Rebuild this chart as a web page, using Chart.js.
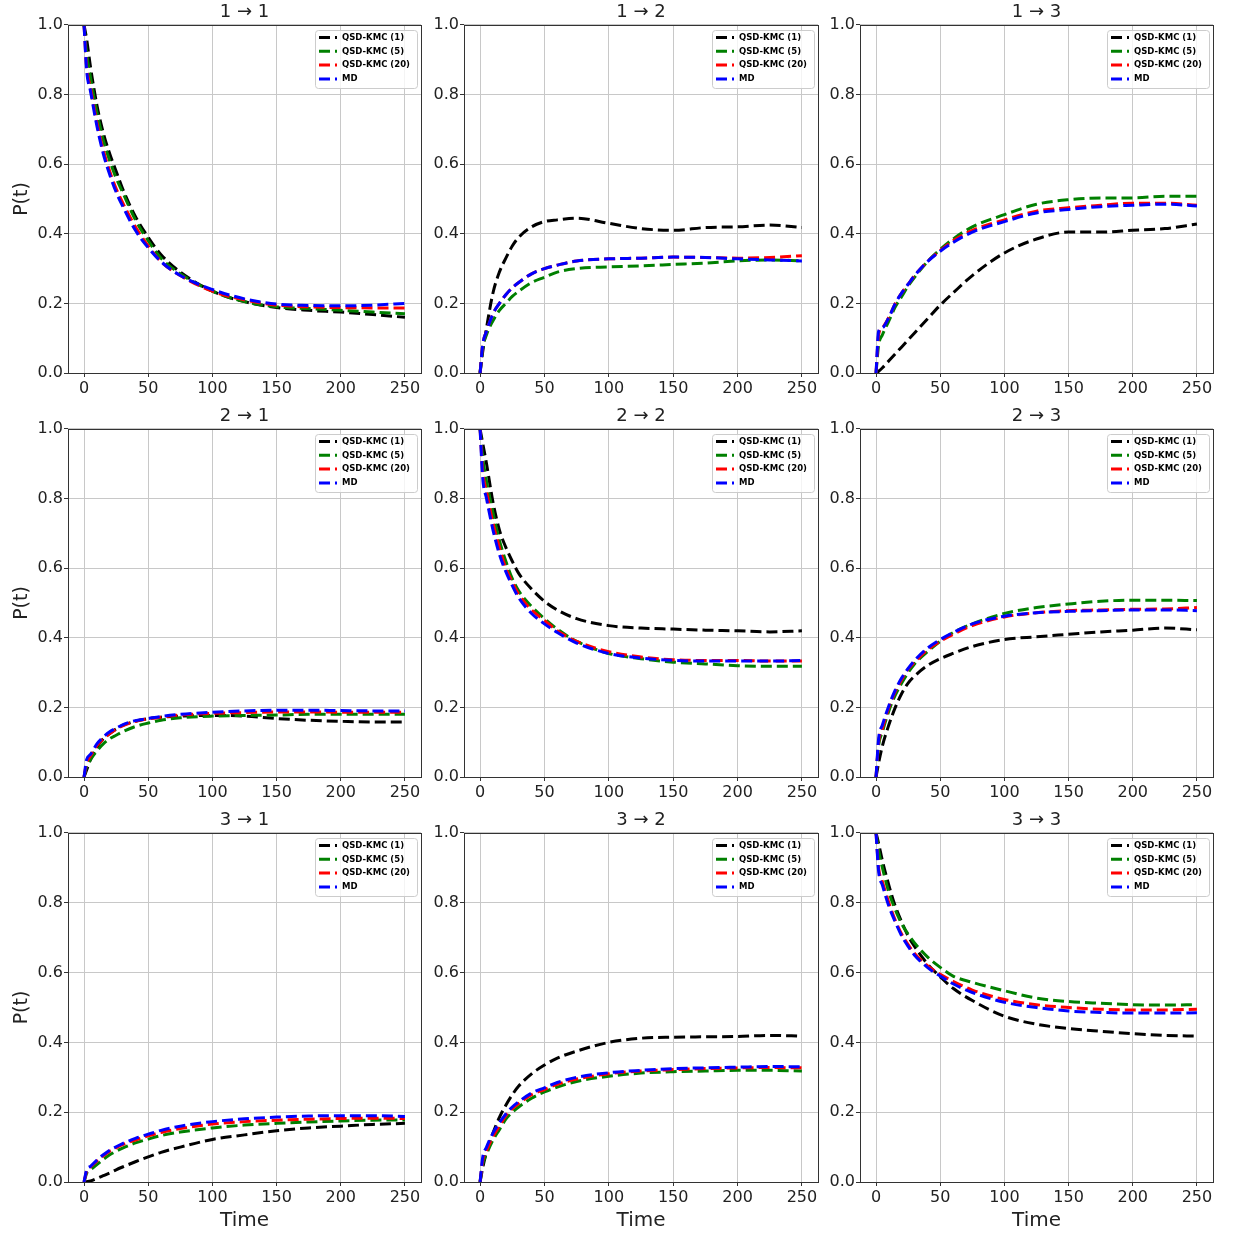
<!DOCTYPE html>
<html lang="en">
<head>
<meta charset="utf-8">
<title>P(t) – QSD-KMC vs. MD</title>
<script src="https://cdn.jsdelivr.net/npm/chart.js@4.4.1/dist/chart.umd.min.js"></script>
<style>
  html, body { margin: 0; padding: 0; background: #fff; }
  #figure { position: relative; width: 1238px; height: 1237px; overflow: hidden; }
  #figure canvas { position: absolute; }
</style>
</head>
<body>
<div id="figure"></div>
<script>
'use strict';

// ------------------------------------------------------------------
// Daten
// ------------------------------------------------------------------

// Gemeinsame Zeitachse aller Panels
const ZEIT = [0, 2, 5, 10, 15, 20, 25, 30, 40, 50, 60, 75, 100, 125, 150, 175, 200, 225, 250];

// Achsenbeschriftungen
const X_TICKS = [0, 50, 100, 150, 200, 250];
const Y_TICKS = [0, 0.2, 0.4, 0.6, 0.8, 1.0];

const SERIEN_NAMEN = ['QSD-KMC (1)', 'QSD-KMC (5)', 'QSD-KMC (20)', 'MD'];

// 1 -> 1
const P11_KMC1  = [1.0, 0.96, 0.88, 0.77, 0.69, 0.63, 0.58, 0.53, 0.45, 0.39, 0.34, 0.29, 0.235, 0.205, 0.188, 0.18, 0.175, 0.168, 0.16];
const P11_KMC5  = [1.0, 0.92, 0.85, 0.75, 0.67, 0.61, 0.56, 0.52, 0.44, 0.38, 0.33, 0.285, 0.235, 0.205, 0.19, 0.185, 0.18, 0.175, 0.17];
const P11_KMC20 = [1.0, 0.88, 0.82, 0.72, 0.64, 0.58, 0.53, 0.49, 0.42, 0.365, 0.32, 0.28, 0.235, 0.21, 0.195, 0.19, 0.188, 0.187, 0.187];
const P11_MD    = [1.0, 0.87, 0.81, 0.71, 0.63, 0.57, 0.52, 0.48, 0.41, 0.36, 0.32, 0.28, 0.24, 0.213, 0.198, 0.194, 0.193, 0.195, 0.2];

// 1 -> 2
const P12_KMC1  = [0, 0.06, 0.13, 0.23, 0.29, 0.33, 0.365, 0.39, 0.42, 0.435, 0.44, 0.445, 0.43, 0.415, 0.41, 0.418, 0.42, 0.425, 0.418];
const P12_KMC5  = [0, 0.07, 0.11, 0.15, 0.18, 0.2, 0.22, 0.235, 0.26, 0.275, 0.29, 0.3, 0.305, 0.308, 0.312, 0.316, 0.322, 0.325, 0.322];
const P12_KMC20 = [0, 0.08, 0.12, 0.17, 0.2, 0.225, 0.245, 0.26, 0.285, 0.3, 0.31, 0.322, 0.328, 0.33, 0.333, 0.332, 0.33, 0.332, 0.337];
const P12_MD    = [0, 0.08, 0.12, 0.17, 0.2, 0.225, 0.245, 0.26, 0.285, 0.3, 0.31, 0.322, 0.328, 0.33, 0.333, 0.332, 0.328, 0.325, 0.322];

// 1 -> 3
const P13_KMC1  = [0, 0.005, 0.015, 0.035, 0.055, 0.075, 0.095, 0.115, 0.155, 0.195, 0.23, 0.28, 0.345, 0.385, 0.405, 0.405, 0.41, 0.415, 0.428];
const P13_KMC5  = [0, 0.08, 0.11, 0.15, 0.19, 0.22, 0.25, 0.275, 0.32, 0.355, 0.385, 0.42, 0.455, 0.485, 0.498, 0.503, 0.503, 0.508, 0.508];
const P13_KMC20 = [0, 0.11, 0.13, 0.16, 0.2, 0.23, 0.255, 0.28, 0.32, 0.352, 0.38, 0.41, 0.44, 0.465, 0.475, 0.482, 0.488, 0.488, 0.482];
const P13_MD    = [0, 0.12, 0.13, 0.16, 0.2, 0.23, 0.255, 0.28, 0.32, 0.35, 0.375, 0.405, 0.435, 0.46, 0.47, 0.478, 0.482, 0.485, 0.48];

// 2 -> 1
const P21_KMC1  = [0, 0.02, 0.05, 0.085, 0.11, 0.125, 0.138, 0.148, 0.16, 0.168, 0.172, 0.175, 0.177, 0.175, 0.168, 0.163, 0.16, 0.158, 0.158];
const P21_KMC5  = [0, 0.03, 0.05, 0.075, 0.095, 0.11, 0.12, 0.13, 0.145, 0.155, 0.163, 0.17, 0.175, 0.177, 0.178, 0.18, 0.18, 0.18, 0.18];
const P21_KMC20 = [0, 0.04, 0.06, 0.09, 0.11, 0.125, 0.137, 0.147, 0.16, 0.167, 0.172, 0.178, 0.183, 0.185, 0.187, 0.187, 0.186, 0.186, 0.186];
const P21_MD    = [0, 0.05, 0.065, 0.095, 0.115, 0.13, 0.14, 0.15, 0.162, 0.168, 0.174, 0.18, 0.186, 0.19, 0.192, 0.192, 0.191, 0.19, 0.19];

// 2 -> 2
const P22_KMC1  = [1.0, 0.96, 0.9, 0.79, 0.71, 0.66, 0.62, 0.585, 0.54, 0.505, 0.48, 0.455, 0.435, 0.428, 0.425, 0.422, 0.42, 0.417, 0.42];
const P22_KMC5  = [1.0, 0.92, 0.85, 0.76, 0.68, 0.62, 0.57, 0.535, 0.49, 0.455, 0.425, 0.39, 0.355, 0.34, 0.33, 0.325, 0.32, 0.318, 0.318];
const P22_KMC20 = [1.0, 0.88, 0.82, 0.73, 0.66, 0.6, 0.56, 0.525, 0.48, 0.45, 0.42, 0.39, 0.36, 0.345, 0.337, 0.335, 0.335, 0.333, 0.333];
const P22_MD    = [1.0, 0.86, 0.8, 0.71, 0.64, 0.59, 0.55, 0.515, 0.47, 0.44, 0.415, 0.385, 0.355, 0.342, 0.335, 0.333, 0.333, 0.333, 0.335];

// 2 -> 3
const P23_KMC1  = [0, 0.04, 0.09, 0.15, 0.2, 0.24, 0.27, 0.29, 0.32, 0.34, 0.355, 0.375, 0.395, 0.403, 0.41, 0.417, 0.422, 0.428, 0.423];
const P23_KMC5  = [0, 0.09, 0.13, 0.19, 0.235, 0.27, 0.3, 0.325, 0.36, 0.39, 0.415, 0.44, 0.47, 0.487, 0.497, 0.505, 0.508, 0.508, 0.507];
const P23_KMC20 = [0, 0.1, 0.14, 0.2, 0.245, 0.28, 0.31, 0.33, 0.365, 0.39, 0.41, 0.435, 0.46, 0.472, 0.478, 0.48, 0.482, 0.483, 0.487];
const P23_MD    = [0, 0.11, 0.15, 0.205, 0.25, 0.285, 0.312, 0.335, 0.37, 0.395, 0.415, 0.44, 0.462, 0.472, 0.476, 0.478, 0.48, 0.48, 0.478];

// 3 -> 1
const P31_KMC1  = [0, 0.001, 0.003, 0.01, 0.018, 0.026, 0.035, 0.043, 0.058, 0.072, 0.085, 0.1, 0.122, 0.135, 0.147, 0.155, 0.16, 0.165, 0.168];
const P31_KMC5  = [0, 0.025, 0.035, 0.05, 0.065, 0.078, 0.088, 0.097, 0.112, 0.123, 0.133, 0.143, 0.155, 0.163, 0.168, 0.172, 0.175, 0.177, 0.178];
const P31_KMC20 = [0, 0.03, 0.043, 0.06, 0.075, 0.088, 0.098, 0.107, 0.12, 0.132, 0.142, 0.153, 0.166, 0.173, 0.177, 0.18, 0.182, 0.183, 0.182];
const P31_MD    = [0, 0.035, 0.045, 0.063, 0.078, 0.091, 0.101, 0.11, 0.125, 0.137, 0.148, 0.16, 0.173, 0.181, 0.186, 0.189, 0.19, 0.19, 0.188];

// 3 -> 2
const P32_KMC1  = [0, 0.04, 0.085, 0.14, 0.185, 0.22, 0.25, 0.275, 0.31, 0.335, 0.355, 0.375, 0.4, 0.412, 0.415, 0.416, 0.417, 0.42, 0.418];
const P32_KMC5  = [0, 0.05, 0.08, 0.12, 0.15, 0.18, 0.2, 0.215, 0.24, 0.258, 0.272, 0.288, 0.303, 0.312, 0.316, 0.318, 0.32, 0.32, 0.318];
const P32_KMC20 = [0, 0.06, 0.09, 0.13, 0.16, 0.19, 0.21, 0.225, 0.25, 0.265, 0.28, 0.295, 0.31, 0.318, 0.322, 0.325, 0.327, 0.328, 0.327];
const P32_MD    = [0, 0.07, 0.1, 0.14, 0.17, 0.195, 0.215, 0.23, 0.255, 0.27, 0.285, 0.3, 0.313, 0.32, 0.325, 0.327, 0.329, 0.331, 0.33];

// 3 -> 3
const P33_KMC1  = [1.0, 0.97, 0.92, 0.85, 0.79, 0.745, 0.705, 0.675, 0.625, 0.588, 0.555, 0.52, 0.475, 0.452, 0.44, 0.432, 0.425, 0.42, 0.418];
const P33_KMC5  = [1.0, 0.95, 0.9, 0.83, 0.78, 0.74, 0.71, 0.685, 0.645, 0.615, 0.59, 0.572, 0.548, 0.527, 0.517, 0.512, 0.508, 0.507, 0.508];
const P33_KMC20 = [1.0, 0.9, 0.86, 0.8, 0.75, 0.71, 0.68, 0.655, 0.62, 0.595, 0.575, 0.55, 0.523, 0.508, 0.5, 0.495, 0.493, 0.493, 0.495];
const P33_MD    = [1.0, 0.89, 0.85, 0.79, 0.745, 0.705, 0.675, 0.65, 0.615, 0.59, 0.568, 0.543, 0.515, 0.5, 0.49, 0.486, 0.484, 0.484, 0.485];

// Panels zeilenweise: [von, nach, Serien]
const PANELS = [
  [1, 1, [P11_KMC1, P11_KMC5, P11_KMC20, P11_MD]],
  [1, 2, [P12_KMC1, P12_KMC5, P12_KMC20, P12_MD]],
  [1, 3, [P13_KMC1, P13_KMC5, P13_KMC20, P13_MD]],
  [2, 1, [P21_KMC1, P21_KMC5, P21_KMC20, P21_MD]],
  [2, 2, [P22_KMC1, P22_KMC5, P22_KMC20, P22_MD]],
  [2, 3, [P23_KMC1, P23_KMC5, P23_KMC20, P23_MD]],
  [3, 1, [P31_KMC1, P31_KMC5, P31_KMC20, P31_MD]],
  [3, 2, [P32_KMC1, P32_KMC5, P32_KMC20, P32_MD]],
  [3, 3, [P33_KMC1, P33_KMC5, P33_KMC20, P33_MD]],
];

// ------------------------------------------------------------------
// Darstellung
// ------------------------------------------------------------------

const Figur = (() => {

  // matplotlib-Farben k, g, r, b
  const FARBEN = ['#000000', '#008000', '#ff0000', '#0000ff'];

  // Plotflächen in Seitenpixeln (links/rechts je Spalte, oben/unten je Zeile)
  const SPALTEN = [[68, 421], [464, 818], [860, 1213]];
  const ZEILEN  = [[25, 373], [429, 777], [833, 1182]];

  const Y_ACHSE_BREITE = 68;
  const TITEL_HOEHE    = 25;
  const RAND_RECHTS    = 4;

  const TEXT_FARBE  = '#222222';
  const GITTER      = '#c8c8c8';

  Chart.defaults.font.family = "'DejaVu Sans', 'Liberation Sans', sans-serif";

  // Achsenrahmen auf allen vier Seiten (wie matplotlib-Spines)
  const rahmenPlugin = {
    id: 'rahmen',
    afterDatasetsDraw(chart) {
      const {ctx, chartArea: a} = chart;
      ctx.save();
      ctx.strokeStyle = '#333333';
      ctx.lineWidth = 1;
      ctx.strokeRect(Math.round(a.left) + 0.5, Math.round(a.top) + 0.5,
                     Math.round(a.right - a.left), Math.round(a.bottom - a.top));
      ctx.restore();
    },
  };

  // Legende oben rechts innerhalb der Plotfläche
  const legendePlugin = {
    id: 'legendeBox',
    afterDraw(chart) {
      const {ctx, chartArea: a} = chart;
      const breite = 102, hoehe = 58;
      const x0 = Math.round(a.right) - 106;
      const y0 = Math.round(a.top) + 5;

      ctx.save();
      ctx.beginPath();
      ctx.roundRect(x0 + 0.5, y0 + 0.5, breite, hoehe, 3);
      ctx.fillStyle = 'rgba(255, 255, 255, 0.8)';
      ctx.fill();
      ctx.strokeStyle = '#cccccc';
      ctx.lineWidth = 1;
      ctx.stroke();

      chart.data.datasets.forEach((ds, i) => {
        const y = y0 + 7.5 + i * 13.8;
        ctx.setLineDash(ds.borderDash);
        ctx.strokeStyle = ds.borderColor;
        ctx.lineWidth = 3;
        ctx.beginPath();
        ctx.moveTo(x0 + 4, y);
        ctx.lineTo(x0 + 22, y);
        ctx.stroke();
        ctx.setLineDash([]);

        ctx.fillStyle = '#000000';
        ctx.font = "bold 8.5px 'DejaVu Sans'";
        ctx.textBaseline = 'middle';
        ctx.textAlign = 'left';
        ctx.fillText(ds.label, x0 + 27, y);
      });
      ctx.restore();
    },
  };

  function datensaetze(serien) {
    return serien.map((werte, i) => ({
      label:       SERIEN_NAMEN[i],
      data:        ZEIT.map((t, k) => ({x: t, y: werte[k]})),
      borderColor: FARBEN[i],
      borderWidth: 3,
      borderDash:  [11, 5],
      pointRadius: 0,
      fill:        false,
      cubicInterpolationMode: 'monotone',
      order:       serien.length - 1 - i,   // blau (MD) oben
    }));
  }

  function panelErstellen(panel, index) {
    const [von, nach, serien] = panel;
    const zeile  = Math.floor(index / 3);
    const spalte = index % 3;
    const letzteZeile = zeile === 2;

    const [plotLinks, plotRechts] = SPALTEN[spalte];
    const [plotOben, plotUnten]   = ZEILEN[zeile];

    const xHoehe = letzteZeile ? 55 : 27;
    const links  = plotLinks - Y_ACHSE_BREITE;
    const oben   = plotOben - TITEL_HOEHE;
    const breite = plotRechts + RAND_RECHTS - links;
    const hoehe  = plotUnten + xHoehe - oben;

    const canvas = document.createElement('canvas');
    canvas.width  = breite;
    canvas.height = hoehe;
    canvas.style.left   = links + 'px';
    canvas.style.top    = oben + 'px';
    canvas.style.width  = breite + 'px';
    canvas.style.height = hoehe + 'px';
    document.getElementById('figure').appendChild(canvas);

    const gitter = {
      color:      GITTER,
      lineWidth:  1,
      drawTicks:  true,
      tickLength: 4,
      tickColor:  '#333333',
      tickWidth:  1,
    };

    new Chart(canvas, {
      type: 'line',
      data: { datasets: datensaetze(serien) },
      options: {
        responsive:       false,
        animation:        false,
        devicePixelRatio: 1,
        layout: { padding: { left: 0, top: 0, bottom: 0, right: RAND_RECHTS } },
        plugins: {
          legend:  { display: false },
          tooltip: { enabled: false },
          title: {
            display:  true,
            fullSize: false,   // über der Plotfläche zentrieren
            text:     `${von} \u2192 ${nach}`,
            color:    TEXT_FARBE,
            font:     { size: 18, weight: 'normal', lineHeight: 1.2 },
            padding:  { top: 2, bottom: 1.4 },
          },
        },
        scales: {
          x: {
            type: 'linear',
            min:  -12.5,
            max:  262.5,
            afterBuildTicks: s => { s.ticks = X_TICKS.map(v => ({value: v})); },
            afterFit:        s => { s.height = xHoehe; },
            grid:   gitter,
            border: { display: false },
            ticks: {
              color: TEXT_FARBE,
              font:  { size: 16 },
              padding: 2,
              maxRotation: 0,
              autoSkip: false,
              callback: v => String(v),
            },
            title: {
              display: letzteZeile,
              text:    'Time',
              color:   TEXT_FARBE,
              font:    { size: 20 },
              padding: { top: 0, bottom: 4 },
            },
          },
          y: {
            type: 'linear',
            min:  0,
            max:  1,
            afterBuildTicks: s => { s.ticks = Y_TICKS.map(v => ({value: v})); },
            afterFit:        s => { s.width = Y_ACHSE_BREITE; },
            grid:   gitter,
            border: { display: false },
            ticks: {
              color: TEXT_FARBE,
              font:  { size: 16 },
              padding: 1,
              callback: v => v.toFixed(1),
            },
            title: {
              display: spalte === 0,
              text:    'P(t)',
              color:   TEXT_FARBE,
              font:    { size: 19 },
              padding: { top: 11, bottom: 0 },
            },
          },
        },
      },
      plugins: [rahmenPlugin, legendePlugin],
    });
  }

  function init() {
    PANELS.forEach(panelErstellen);
  }

  document.addEventListener('DOMContentLoaded', init);

  return {};
})();
</script>
</body>
</html>
